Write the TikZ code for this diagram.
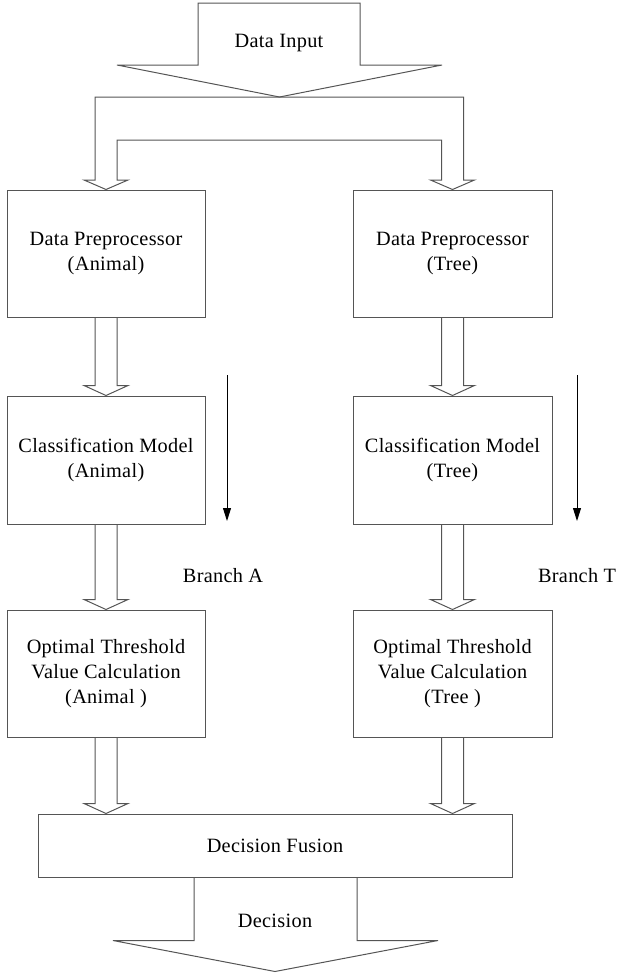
\documentclass[tikz,border=0pt]{standalone}
\usepackage{fontspec}
\setmainfont[LetterSpace=1.5]{Liberation Serif}
\usetikzlibrary{calc,arrows.meta}
\definecolor{ln}{RGB}{85,85,85}
\newcommand{\fatdown}[2]{%
  \draw[fat] ($(#1)+(-11,0)$) -- ($(#1 |- #2)+(-11,-10)$) -- ($(#1 |- #2)+(-22,-10)$)
    -- (#1 |- #2) -- ($(#1 |- #2)+(22,-10)$) -- ($(#1 |- #2)+(11,-10)$) -- ($(#1)+(11,0)$);}
\begin{document}
\begin{tikzpicture}[x=1pt,y=-1pt,
  box/.style={draw=ln,line width=1pt,fill=white,align=center,inner sep=0pt,
              font=\fontsize{20.3}{25}\selectfont},
  lbl/.style={font=\fontsize{20.3}{25}\selectfont,inner sep=0pt,anchor=base},
  fat/.style={draw=ln,line width=1pt,line join=miter},
  thinarrow/.style={draw=black,line width=0.9pt,-{Triangle[width=8pt,length=13pt]}}]
\useasboundingbox (0,0) rectangle (616,977);

% boxes
\node[box,minimum width=198pt,minimum height=127pt] (pA) at (106,253.5) {Data Preprocessor\\(Animal)};
\node[box,minimum width=199pt,minimum height=127pt] (pT) at (452.5,253.5) {Data Preprocessor\\(Tree)};
\node[box,minimum width=198pt,minimum height=128pt] (cA) at (106,460) {Classification Model\\(Animal)};
\node[box,minimum width=199pt,minimum height=128pt] (cT) at (452.5,460) {Classification Model\\(Tree)};
\node[box,minimum width=198pt,minimum height=127pt] (oA) at (106,673.5) {Optimal Threshold\\Value Calculation\\(Animal )};
\node[box,minimum width=199pt,minimum height=127pt] (oT) at (452.5,673.5) {Optimal Threshold\\Value Calculation\\(Tree )};
\node[box,minimum width=474pt,minimum height=63pt] (fus) at (275,845.5) {Decision Fusion};

% input arrow
\coordinate (split) at (279.5,97);
\draw[fat] (198,3) -- (198,65) -- (117,65) -- (split) -- (442,65) -- (360,65) -- (360,3) -- cycle;
\node[lbl] (in) at (279,47) {Data Input};

% split arrow
\draw[fat] (pA.north) -- (84,180) -- (95,180) -- (95,97) -- (463.5,97) -- (463.5,180)
  -- (474.5,180) -- (pT.north) -- (430.5,180) -- (441.5,180) -- (441.5,140)
  -- (117,140) -- (117,180) -- (128,180) -- cycle;

% hollow arrows between boxes
\fatdown{pA.south}{cA.north}
\fatdown{pT.south}{cT.north}
\fatdown{cA.south}{oA.north}
\fatdown{cT.south}{oT.north}
\fatdown{oA.south}{fus.north}
\fatdown{oT.south}{fus.north}

% decision arrow
\coordinate (dtip) at ($(fus.south)+(0,94)$);
\draw[fat] ($(fus.south)+(-81,0)$) -- ($(fus.south)+(-81,63)$) -- ($(fus.south)+(-162,63)$)
  -- (dtip) -- ($(fus.south)+(163,63)$) -- ($(fus.south)+(82,63)$) -- ($(fus.south)+(82,0)$);
\node[lbl] (dec) at (275,927) {Decision};

% branch arrows
\coordinate (bA1) at (227,375);
\coordinate (bA2) at (227,521);
\coordinate (bT1) at (577,375);
\coordinate (bT2) at (577,521);
\draw[thinarrow] (bA1) -- (bA2);
\draw[thinarrow] (bT1) -- (bT2);
\node[lbl] (brA) at (223,582) {Branch A};
\node[lbl] (brT) at (577,582) {Branch T};
\end{tikzpicture}
\end{document}
